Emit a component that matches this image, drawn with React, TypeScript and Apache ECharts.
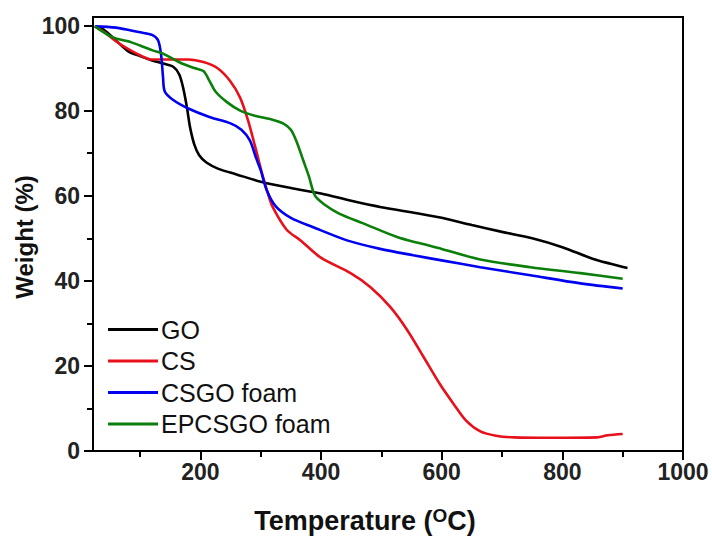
import React, { useEffect, useRef } from "react";
import * as echarts from "echarts";

const seriesNames = ["GO", "CS", "CSGO foam", "EPCSGO foam"];
const seriesColors = ["#000000", "#e8101a", "#0000f0", "#0a7f0a"];

const goData = [
  [25, 99.8], [40, 99], [60, 96.5], [80, 94], [100, 92.8], [120, 91.8], [140, 91], [155, 90.3],
  [165, 88.5], [172, 85], [178, 80.5], [183, 76], [190, 72], [198, 69.5], [210, 67.8], [230, 66.3],
  [260, 65], [300, 63.3], [350, 61.8], [400, 60.5], [450, 58.8], [500, 57.3], [550, 56.1],
  [600, 54.8], [650, 53.1], [700, 51.5], [750, 50], [800, 47.9], [850, 45.2], [880, 44], [908, 43],
];
const csData = [
  [25, 99.8], [40, 98.5], [60, 96.3], [80, 94.5], [100, 93], [120, 92], [150, 92], [180, 92],
  [205, 91.4], [228, 90], [249, 87], [266, 83], [279, 77.7], [291, 71.4], [304, 64.3], [312, 60.5],
  [320, 57.3], [343, 52], [366, 49.5], [399, 45.5], [449, 41.8], [482, 38.5], [515, 33.8],
  [543, 28.4], [570, 22.1], [598, 15.5], [620, 11], [640, 7.2], [664, 4.6], [690, 3.6], [720, 3.2],
  [780, 3.1], [858, 3.2], [875, 3.7], [900, 4],
];
const csgoData = [
  [25, 99.8], [60, 99.5], [100, 98.4], [120, 97.8], [130, 96.5], [135, 93], [138, 88], [141, 84.5],
  [155, 82.5], [180, 80.5], [215, 78.5], [250, 77], [268, 75.5], [282, 73], [292, 69], [300, 66],
  [310, 61.3], [325, 57.5], [350, 54.8], [387, 52.6], [443, 49.5], [498, 47.5], [553, 46],
  [600, 44.8], [664, 43.2], [747, 41.3], [830, 39.4], [900, 38.2],
];
const epcsgoData = [
  [25, 99.8], [55, 97.2], [80, 96.3], [100, 95.3], [122, 94.1], [138, 93.4], [166, 91.3], [190, 90],
  [205, 89.3], [215, 87], [225, 84.5], [244, 82], [266, 80], [290, 78.8], [316, 78], [337, 77],
  [350, 75.5], [360, 72.5], [370, 68.5], [380, 64.5], [390, 60], [405, 58], [430, 55.8],
  [470, 53.5], [526, 50.3], [564, 48.8], [600, 47.5], [664, 45], [747, 43.2], [830, 41.8], [900, 40.5],
];
const allData = [goData, csData, csgoData, epcsgoData];

const xMajorTicks = [200, 400, 600, 800, 1000];
const xMinorTicks = [100, 300, 500, 700, 900];
const yMajorTicks = [0, 20, 40, 60, 80, 100];
const yMinorTicks = [10, 30, 50, 70, 90];

const FONT = "'Liberation Sans', Arial, sans-serif";
const X_MIN = 22;
const X_MAX = 1000;
const Y_MIN = 0;
const Y_MAX = 102;

export default function App() {
  const ref = useRef<HTMLDivElement>(null);
  useEffect(() => {
    if (!ref.current) return;
    const chart = echarts.init(ref.current, undefined, { renderer: "svg" });
    const axisLine = { show: true, lineStyle: { color: "#000", width: 2 } };
    const labelStyle = {
      fontFamily: FONT, fontSize: 23, fontWeight: "bold", color: "#222",
      formatter: (v: number) => String(v),
    };
    chart.setOption({
      animation: false,
      backgroundColor: "#ffffff",
      grid: {
        left: 93, right: 29, top: 17, bottom: 86,
        show: true, borderColor: "#000", borderWidth: 2, backgroundColor: "transparent",
      },
      legend: {
        orient: "vertical",
        left: 103,
        top: 312,
        icon: "rect",
        itemWidth: 50,
        itemHeight: 3,
        itemGap: 6.5,
        textStyle: { fontFamily: FONT, fontSize: 25, lineHeight: 25, color: "#111", padding: [0, 0, 0, -2] },
        data: seriesNames,
      },
      xAxis: [
        {
          type: "value", min: X_MIN, max: X_MAX, position: "bottom", offset: 0,
          splitLine: { show: false },
          axisLine,
          axisTick: { show: true, customValues: xMajorTicks, length: 9, lineStyle: { color: "#000", width: 2 } },
          axisLabel: { ...labelStyle, customValues: xMajorTicks, margin: 9 },
        },
        {
          type: "value", min: X_MIN, max: X_MAX, position: "bottom", offset: 0,
          splitLine: { show: false },
          axisLine: { show: false },
          axisTick: { show: true, customValues: xMinorTicks, length: 6, lineStyle: { color: "#000", width: 2 } },
          axisLabel: { show: false },
        },
      ],
      yAxis: [
        {
          type: "value", min: Y_MIN, max: Y_MAX, position: "left", offset: 0,
          splitLine: { show: false },
          axisLine,
          axisTick: { show: true, customValues: yMajorTicks, length: 9, lineStyle: { color: "#000", width: 2 } },
          axisLabel: { ...labelStyle, customValues: yMajorTicks, margin: 13 },
        },
        {
          type: "value", min: Y_MIN, max: Y_MAX, position: "left", offset: 0,
          splitLine: { show: false },
          axisLine: { show: false },
          axisTick: { show: true, customValues: yMinorTicks, length: 6, lineStyle: { color: "#000", width: 2 } },
          axisLabel: { show: false },
        },
      ],
      graphic: [
        {
          type: "text",
          x: 365,
          y: 521,
          style: {
            text: "{a|Temperature (}{s|O}{a|C)}",
            align: "center",
            verticalAlign: "middle",
            rich: {
              a: { fontFamily: FONT, fontSize: 27, fontWeight: "bold", fill: "#111" },
              s: { fontFamily: FONT, fontSize: 19, fontWeight: "bold", fill: "#111", verticalAlign: "top", padding: [0, 0, 12, 0] },
            },
          },
        },
        {
          type: "text",
          x: 24,
          y: 237,
          rotation: Math.PI / 2,
          style: {
            text: "Weight (%)",
            align: "center",
            verticalAlign: "middle",
            fontFamily: FONT,
            fontSize: 24,
            fontWeight: "bold",
            fill: "#111",
          },
        },
      ],
      series: seriesNames.map((name, i) => ({
        name,
        type: "line",
        xAxisIndex: 0,
        yAxisIndex: 0,
        data: allData[i],
        showSymbol: false,
        symbol: "none",
        smooth: 0.3,
        lineStyle: { color: seriesColors[i], width: 2.6 },
        itemStyle: { color: seriesColors[i] },
      })),
    });
    return () => chart.dispose();
  }, []);
  return (
    <div
      ref={ref}
      style={{ position: "fixed", left: 0, top: 0, width: 712, height: 537, background: "#fff" }}
    />
  );
}
